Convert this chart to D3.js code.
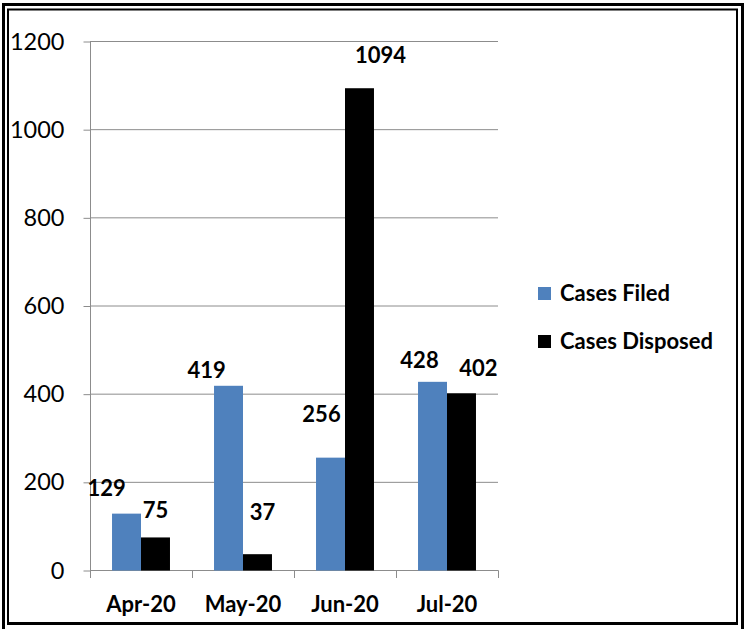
<!DOCTYPE html>
<html>
<head>
<meta charset="utf-8">
<script src="https://cdn.jsdelivr.net/npm/d3@7"></script>
<style>
  html, body { margin: 0; padding: 0; background: #fff; }
  svg { display: block; font-family: Lato, "Open Sans", sans-serif; }
</style>
</head>
<body>
<svg id="chart" width="746" height="629"></svg>
<script>
const months = ['Apr-20', 'May-20', 'Jun-20', 'Jul-20'];
const seriesNames = ['Cases Filed', 'Cases Disposed'];
const casesFiled = [129, 419, 256, 428];
const casesDisposed = [75, 37, 1094, 402];
const yTicks = [0, 200, 400, 600, 800, 1000, 1200];

// label nudges (Excel placed these by hand to avoid overlaps)
const filedNudge = [[-20, -18], [-22, -8], [-9, -36], [-13, -14]];
const disposedNudge = [[0, -19], [5, -34], [21, -25], [17, -17]];

const colors = ['#4f81bd', '#000000'];
const gridColor = '#8c8c8c';

const svg = d3.select('#chart');
const width = 746;
const height = 629;

// double frame
svg.append('rect')
  .attr('x', 3.5).attr('y', 4.5)
  .attr('width', width - 7).attr('height', height)
  .attr('fill', 'none').attr('stroke', '#000').attr('stroke-width', 3);
svg.append('rect')
  .attr('x', 8).attr('y', 9.5)
  .attr('width', width - 17).attr('height', 614)
  .attr('fill', 'none').attr('stroke', '#000').attr('stroke-width', 2);
svg.append('line')
  .attr('x1', 7).attr('x2', width - 8)
  .attr('y1', 623.5).attr('y2', 623.5)
  .attr('stroke', '#000').attr('stroke-width', 3);

const x = d3.scaleBand().domain(months).range([90, 498]).padding(0);
const xs = d3.scaleBand().domain(seriesNames).range([0, x.bandwidth()])
  .paddingInner(0).paddingOuter(0.76);
const y = d3.scaleLinear().domain([0, 1200]).range([570.5, 41.5]);

// gridlines
svg.append('g')
  .selectAll('line')
  .data(yTicks.slice(1))
  .join('line')
  .attr('x1', 90).attr('x2', 498)
  .attr('y1', d => y(d)).attr('y2', d => y(d))
  .attr('stroke', gridColor).attr('stroke-width', 1);

// y axis
const yAxis = svg.append('g')
  .attr('transform', 'translate(90.5,0)')
  .call(d3.axisLeft(y).tickValues(yTicks).tickFormat(d3.format('d'))
    .tickSizeInner(7).tickSizeOuter(0).tickPadding(19));
yAxis.select('.domain').attr('stroke', gridColor).attr('d', `M0,${y(1200)}V578`);
yAxis.selectAll('.tick line').attr('stroke', gridColor);
yAxis.selectAll('.tick text')
  .attr('fill', '#000')
  .style('font-size', '23.5px')
  .style('font-family', 'Lato, sans-serif');

// x axis line and boundary ticks
svg.append('line')
  .attr('x1', 90).attr('x2', 498.5)
  .attr('y1', y(0)).attr('y2', y(0))
  .attr('stroke', gridColor);
svg.append('g')
  .selectAll('line')
  .data(months.map(m => x(m)).concat([x(months[months.length - 1]) + x.bandwidth()]))
  .join('line')
  .attr('x1', d => Math.round(d) + 0.5).attr('x2', d => Math.round(d) + 0.5)
  .attr('y1', y(0)).attr('y2', 578)
  .attr('stroke', gridColor);

const xAxis = svg.append('g')
  .attr('transform', `translate(0,${y(0)})`)
  .call(d3.axisBottom(x).tickSize(0));
xAxis.select('.domain').remove();
xAxis.selectAll('.tick text')
  .attr('y', 41).attr('dy', 0)
  .attr('fill', '#000')
  .style('font-size', '22px')
  .style('font-weight', 'bold')
  .style('font-family', 'Lato, sans-serif');

// bars
const rows = months.map((m, i) => ({
  month: m,
  values: [
    { series: seriesNames[0], value: casesFiled[i], nudge: filedNudge[i], color: colors[0] },
    { series: seriesNames[1], value: casesDisposed[i], nudge: disposedNudge[i], color: colors[1] }
  ]
}));

const group = svg.append('g')
  .selectAll('g')
  .data(rows)
  .join('g')
  .attr('transform', d => `translate(${x(d.month)},0)`);

group.selectAll('rect')
  .data(d => d.values)
  .join('rect')
  .attr('x', d => xs(d.series))
  .attr('width', xs.bandwidth())
  .attr('y', d => y(d.value))
  .attr('height', d => y(0) - y(d.value))
  .attr('fill', d => d.color);

group.selectAll('text')
  .data(d => d.values)
  .join('text')
  .attr('x', d => xs(d.series) + xs.bandwidth() / 2 + d.nudge[0])
  .attr('y', d => y(d.value) + d.nudge[1])
  .attr('text-anchor', 'middle')
  .style('font-size', '22px')
  .style('font-weight', 'bold')
  .text(d => d.value);

// legend
const legend = svg.append('g')
  .selectAll('g')
  .data(seriesNames)
  .join('g')
  .attr('transform', (d, i) => `translate(538,${287 + i * 48})`);
legend.append('rect')
  .attr('width', 13).attr('height', 13)
  .attr('fill', (d, i) => colors[i]);
legend.append('text')
  .attr('x', 22).attr('y', 14)
  .style('font-size', '22px')
  .style('font-weight', 'bold')
  .text(d => d);
</script>
</body>
</html>
